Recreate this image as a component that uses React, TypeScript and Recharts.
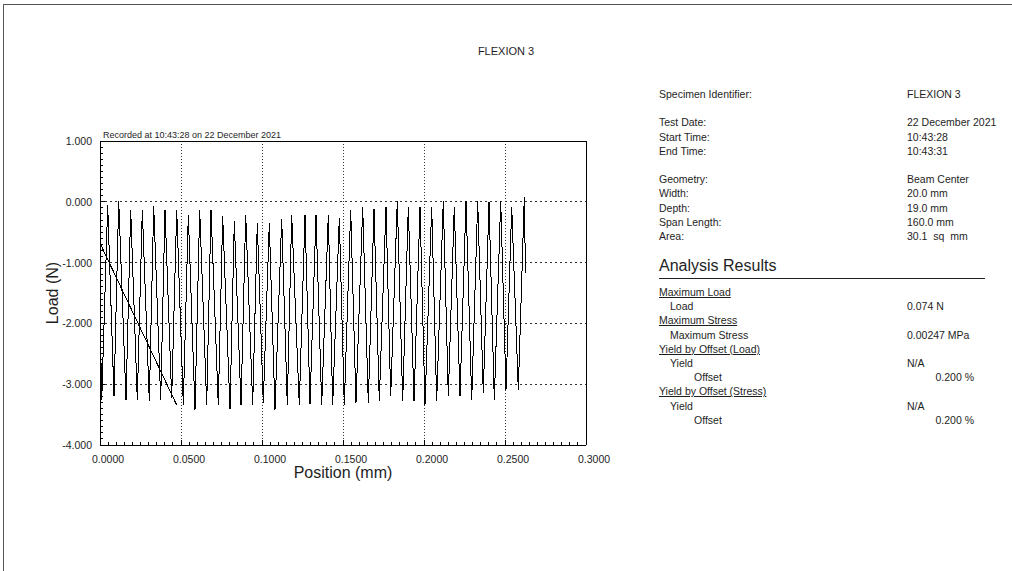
import { LineChart, Line, XAxis, YAxis, ReferenceLine } from "recharts";

const positionMm = [
  0, 0.00105, 0.00475, 0.00864, 0.01154, 0.01605, 0.01895, 0.02302, 0.02611, 0.03043,
  0.03315, 0.03747, 0.04012, 0.04426, 0.04735, 0.05142, 0.05451, 0.05864, 0.06154, 0.06586,
  0.06852, 0.07302, 0.07574, 0.08025, 0.0829, 0.08704, 0.08994, 0.09426, 0.0971, 0.1008,
  0.10451, 0.10802, 0.11216, 0.11562, 0.11833, 0.12302, 0.12654, 0.12963, 0.13333, 0.13685,
  0.14093, 0.14364, 0.14772, 0.1508, 0.15475, 0.15802, 0.16216, 0.16562, 0.16914, 0.17241,
  0.17654, 0.17944, 0.18352, 0.18685, 0.19031, 0.19383, 0.19753, 0.20062, 0.20475, 0.20784,
  0.21191, 0.215, 0.2187, 0.22222, 0.22593, 0.22944, 0.23315, 0.2366, 0.24012, 0.2434,
  0.24735, 0.25062, 0.25414, 0.25821, 0.26191, 0.26265,
];
const loadN = [
  -1.75, -3.26, -0.05, -3.2, 0.02, -3.26, -0.13, -3.26, -0.13, -3.28,
  -0.07, -3.26, -0.13, -3.23, -0.13, -3.34, -0.21, -3.42, -0.13, -3.34,
  -0.13, -3.34, -0.24, -3.41, -0.32, -3.34, -0.21, -3.34, -0.35, -3.31,
  -0.35, -3.42, -0.28, -3.34, -0.21, -3.34, -0.21, -3.33, -0.21, -3.34,
  -0.21, -3.34, -0.26, -3.34, -0.13, -3.31, -0.08, -3.31, -0.12, -3.28,
  -0.08, -3.2, 0.02, -3.28, -0.08, -3.28, -0.08, -3.34, -0.08, -3.28,
  0.02, -3.2, -0.08, -3.2, 0.02, -3.26, 0.02, -3.15, 0.0, -3.26,
  0.02, -3.09, -0.08, -3.09, 0.074, -1.17,
];

// straight slope line drawn over the start of the test
const slopePositionMm = [0, 0.0473];
const slopeLoadN = [-0.68, -3.34];

const xMajorTicks = [0, 0.05, 0.1, 0.15, 0.2, 0.25, 0.3];
const yMajorTicks = [1, 0, -1, -2, -3, -4];
const xGridLines = [0.05, 0.1, 0.15, 0.2, 0.25];
const yGridLines = [0, -1, -2, -3];

const xAllTicks = Array.from({ length: 61 }, (_, i) => +(i * 0.005).toFixed(3));
const yAllTicks = Array.from({ length: 51 }, (_, i) => +(1 - i * 0.1).toFixed(1));

const specimenLabels = [
  "Specimen Identifier:", "", "Test Date:", "Start Time:", "End Time:", "",
  "Geometry:", "Width:", "Depth:", "Span Length:", "Area:",
];
const specimenValues = [
  "FLEXION 3", "", "22 December 2021", "10:43:28", "10:43:31", "",
  "Beam Center", "20.0 mm", "19.0 mm", "160.0 mm", "30.1  sq  mm",
];

const resultLabels = [
  "Maximum Load", "Load", "Maximum Stress", "Maximum Stress",
  "Yield by Offset (Load)", "Yield", "Offset",
  "Yield by Offset (Stress)", "Yield", "Offset",
];
const resultLevels = [0, 1, 0, 1, 0, 1, 2, 0, 1, 2];
const resultValues = ["", "0.074 N", "", "0.00247 MPa", "", "N/A", "0.200 %", "", "N/A", "0.200 %"];

const ink = "#1e1e1e";

const sameTick = (v: number, list: number[]) => list.some((m) => Math.abs(m - v) < 1e-9);

const XTick = (props: any) => {
  const { x, y, payload } = props;
  const major = sameTick(payload.value, xMajorTicks);
  return (
    <g>
      <line x1={x} x2={x} y1={y} y2={y - (major ? 5 : 3)} stroke="#000" />
      {major && (
        <text x={x - 8} y={y + 18} textAnchor="start" fontSize={10.5} fill={ink}>
          {payload.value.toFixed(4)}
        </text>
      )}
    </g>
  );
};

const YTick = (props: any) => {
  const { x, y, payload } = props;
  const major = sameTick(payload.value, yMajorTicks);
  return (
    <g>
      <line x1={x} x2={x + (major ? 5 : 3)} y1={y} y2={y} stroke="#000" />
      {major && (
        <text x={x - 8} y={y + 4} textAnchor="end" fontSize={10.5} fill={ink}>
          {payload.value.toFixed(3)}
        </text>
      )}
    </g>
  );
};

export default function App() {
  const curve = positionMm.map((x, i) => ({ x, y: loadN[i] }));
  const slope = slopePositionMm.map((x, i) => ({ x, y: slopeLoadN[i] }));

  return (
    <div
      style={{
        position: "absolute",
        left: 0,
        top: 0,
        width: 1012,
        height: 571,
        background: "#fff",
        overflow: "hidden",
        fontFamily: "'Liberation Sans', Arial, sans-serif",
        color: ink,
      }}
    >
      <div
        style={{
          position: "absolute",
          left: 3,
          top: 4,
          width: 1100,
          height: 700,
          borderTop: "1px solid #555",
          borderLeft: "1px solid #555",
        }}
      />
      <div
        style={{
          position: "absolute",
          left: 0,
          top: 44,
          width: 1012,
          textAlign: "center",
          fontSize: 11,
          lineHeight: "14px",
        }}
      >
        FLEXION 3
      </div>
      <div style={{ position: "absolute", left: 103, top: 130, fontSize: 9, lineHeight: "11px" }}>
        Recorded at 10:43:28 on 22 December 2021
      </div>

      <div style={{ position: "absolute", left: 0, top: 0, shapeRendering: "crispEdges" }}>
        <LineChart width={620} height={500} margin={{ top: 141, right: 34, bottom: 0, left: 4 }}>
          <XAxis
            type="number"
            dataKey="x"
            domain={[0, 0.3]}
            ticks={xAllTicks}
            interval={0}
            tickSize={0}
            tickMargin={0}
            tick={<XTick />}
            axisLine={{ stroke: "#000" }}
            height={55}
            label={{ value: "Position (mm)", position: "center", fontSize: 16, fill: ink }}
          />
          <YAxis
            type="number"
            dataKey="y"
            domain={[-4, 1]}
            ticks={yAllTicks}
            interval={0}
            tickSize={0}
            tickMargin={0}
            tick={<YTick />}
            axisLine={{ stroke: "#000" }}
            width={96}
            label={{ value: "Load (N)", position: "center", angle: -90, fontSize: 16, fill: ink }}
          />
          {yGridLines.map((v) => (
            <ReferenceLine key={"h" + v} y={v} stroke="#333" strokeDasharray="2 3" />
          ))}
          {xGridLines.map((v) => (
            <ReferenceLine key={"v" + v} x={v} stroke="#333" strokeDasharray="1 2" />
          ))}
          <ReferenceLine y={1} stroke="#000" />
          <ReferenceLine x={0.3} stroke="#000" />
          <Line
            data={curve}
            dataKey="y"
            type="linear"
            stroke="#000"
            strokeWidth={1}
            dot={false}
            isAnimationActive={false}
          />
          <Line
            data={slope}
            dataKey="y"
            type="linear"
            stroke="#000"
            strokeWidth={1}
            dot={false}
            isAnimationActive={false}
          />
        </LineChart>
      </div>

      <div style={{ position: "absolute", left: 659, top: 87, width: 330, fontSize: 10.5, lineHeight: "14.2px" }}>
        {specimenLabels.map((label, i) => (
          <div key={i} style={{ position: "relative", height: 14.2, whiteSpace: "pre" }}>
            <span>{label}</span>
            <span style={{ position: "absolute", left: 248 }}>{specimenValues[i]}</span>
          </div>
        ))}
      </div>

      <div
        style={{
          position: "absolute",
          left: 659,
          top: 256,
          width: 326,
          height: 22,
          fontSize: 16,
          lineHeight: "20px",
          borderBottom: "1px solid #222",
        }}
      >
        Analysis Results
      </div>

      <div style={{ position: "absolute", left: 659, top: 285, width: 330, fontSize: 10.5, lineHeight: "14.2px" }}>
        {resultLabels.map((label, i) => {
          const level = resultLevels[i];
          const value = resultValues[i];
          const rightAligned = level === 2;
          return (
            <div key={i} style={{ position: "relative", height: 14.2, whiteSpace: "pre" }}>
              <span
                style={{
                  position: "absolute",
                  left: level === 0 ? 0 : level === 1 ? 11 : 35,
                  textDecoration: level === 0 ? "underline" : "none",
                }}
              >
                {label}
              </span>
              {value &&
                (rightAligned ? (
                  <span style={{ position: "absolute", right: 15 }}>{value}</span>
                ) : (
                  <span style={{ position: "absolute", left: 248 }}>{value}</span>
                ))}
            </div>
          );
        })}
      </div>
    </div>
  );
}
